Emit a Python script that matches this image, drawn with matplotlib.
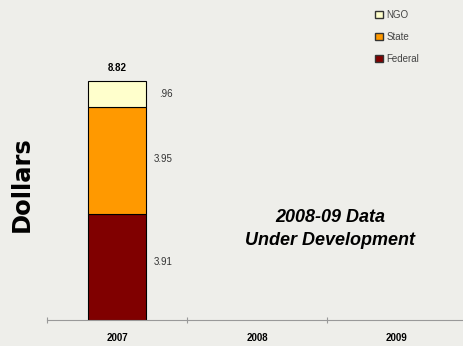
import matplotlib
matplotlib.use("Agg")
import matplotlib.pyplot as plt
from matplotlib.patches import Patch

plt.rcParams['font.family'] = ['Liberation Sans', 'DejaVu Sans']

years = ['2007', '2008', '2009']
federal = [3.91]
state = [3.95]
ngo = [0.96]
totals = ['8.82']
seg_labels = {'Federal': '3.91', 'State': '3.95', 'NGO': '.96'}

bg = '#eeeeea'
c_fed, c_state, c_ngo = '#800000', '#ff9900', '#ffffcc'

fig = plt.figure(figsize=(4.64, 3.46), dpi=100, facecolor=bg)
ax = fig.add_axes([47 / 464, 26 / 346, 420 / 464, 271 / 346], facecolor=bg)

x = list(range(len(federal)))
w = 0.41
ax.bar(x, federal, w, color=c_fed, edgecolor='black', linewidth=0.8)
ax.bar(x, state, w, bottom=federal, color=c_state, edgecolor='black', linewidth=0.8)
base2 = [f + s for f, s in zip(federal, state)]
ax.bar(x, ngo, w, bottom=base2, color=c_ngo, edgecolor='black', linewidth=0.8)

# segment values, right-aligned just past the bar
for i in x:
    lx = i + 0.4
    ax.text(lx, federal[i] / 2 + 0.2, seg_labels['Federal'],
            fontsize=7, color='#333333', va='center', ha='right')
    ax.text(lx, federal[i] + state[i] / 2 + 0.05, seg_labels['State'],
            fontsize=7, color='#333333', va='center', ha='right')
    ax.text(lx, base2[i] + ngo[i] / 2, seg_labels['NGO'],
            fontsize=7, color='#333333', va='center', ha='right')
    top = base2[i] + ngo[i]
    ax.text(i, top + 0.3, totals[i], fontsize=7, fontweight='bold',
            ha='center', va='bottom')

ax.text(1.52, 3.35, '2008-09 Data\nUnder Development', fontsize=13,
        fontweight='bold', fontstyle='italic', ha='center', va='center',
        linespacing=1.45)

ax.set_xlim(-0.5, 2.5)
ax.set_ylim(0, 10)
ax.set_xticks(range(len(years)))
ax.set_xticklabels(years, fontsize=7, fontweight='bold')
ax.set_xticks([-0.5, 0.5, 1.5, 2.5], minor=True)
ax.tick_params(axis='x', which='major', length=0, pad=9.5)
ax.tick_params(axis='x', which='minor', length=5, direction='inout',
               color='#999999', width=0.8)
ax.set_yticks([])
for s in ['left', 'right', 'top']:
    ax.spines[s].set_visible(False)
ax.spines['bottom'].set_color('#999999')
ax.spines['bottom'].set_linewidth(0.8)

fig.text(22 / 464, 1 - 184 / 346, 'Dollars', rotation=90, fontsize=17.5,
         fontweight='heavy', family='DejaVu Sans', ha='center', va='center')

handles = [Patch(facecolor=c_ngo, edgecolor='#333333', label='NGO'),
           Patch(facecolor=c_state, edgecolor='#333333', label='State'),
           Patch(facecolor=c_fed, edgecolor='#333333', label='Federal')]
leg = fig.legend(handles=handles, loc='upper left', bbox_to_anchor=(366 / 464, 1 - 1 / 346),
                 frameon=False, fontsize=7, handlelength=0.8, handleheight=0.8,
                 handletextpad=0.4, labelspacing=1.25)
for t in leg.get_texts():
    t.set_color('#444444')

fig.savefig('out.png', dpi=100, facecolor=bg)
